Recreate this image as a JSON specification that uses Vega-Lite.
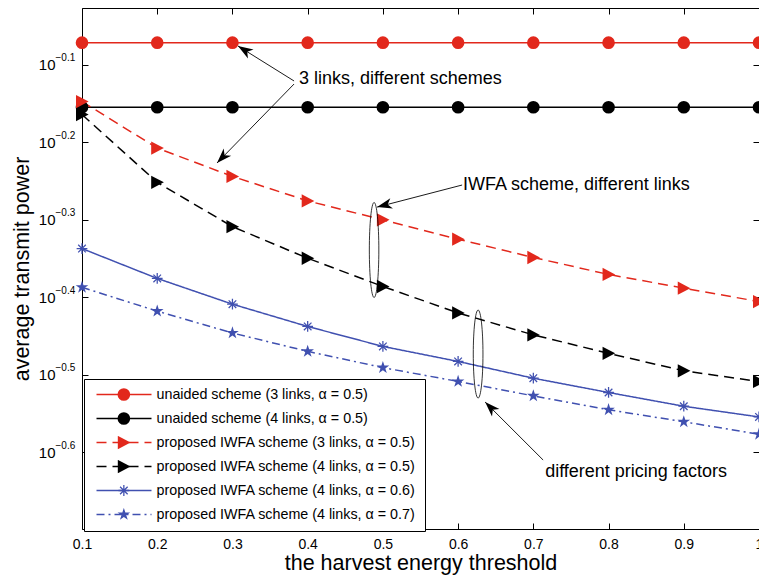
{
  "$schema": "https://vega.github.io/schema/vega-lite/v6.json",
  "width": 677,
  "height": 521,
  "autosize": {"type": "none"},
  "padding": {"left": 82, "top": 8, "right": 0, "bottom": 52},
  "background": "white",
  "config": {
    "font": "Liberation Sans",
    "view": {"stroke": "black", "strokeWidth": 1},
    "axis": {"grid": false, "labelColor": "black", "tickColor": "black", "domainColor": "black", "titleColor": "black", "titleFontWeight": "normal", "labelFont": "Liberation Sans", "titleFont": "Liberation Sans", "labelFlush": false, "tickWidth": 1},
    "legend": {"labelFont": "Liberation Sans", "labelColor": "black"}
  },
  "datasets": {
    "curves": [
      {"series": "unaided scheme (3 links, α = 0.5)", "x": 0.1, "y": 0.848},
      {"series": "unaided scheme (3 links, α = 0.5)", "x": 0.2, "y": 0.848},
      {"series": "unaided scheme (3 links, α = 0.5)", "x": 0.3, "y": 0.848},
      {"series": "unaided scheme (3 links, α = 0.5)", "x": 0.4, "y": 0.848},
      {"series": "unaided scheme (3 links, α = 0.5)", "x": 0.5, "y": 0.848},
      {"series": "unaided scheme (3 links, α = 0.5)", "x": 0.6, "y": 0.848},
      {"series": "unaided scheme (3 links, α = 0.5)", "x": 0.7, "y": 0.848},
      {"series": "unaided scheme (3 links, α = 0.5)", "x": 0.8, "y": 0.848},
      {"series": "unaided scheme (3 links, α = 0.5)", "x": 0.9, "y": 0.848},
      {"series": "unaided scheme (3 links, α = 0.5)", "x": 1.0, "y": 0.848},
      {"series": "unaided scheme (4 links, α = 0.5)", "x": 0.1, "y": 0.700},
      {"series": "unaided scheme (4 links, α = 0.5)", "x": 0.2, "y": 0.700},
      {"series": "unaided scheme (4 links, α = 0.5)", "x": 0.3, "y": 0.700},
      {"series": "unaided scheme (4 links, α = 0.5)", "x": 0.4, "y": 0.700},
      {"series": "unaided scheme (4 links, α = 0.5)", "x": 0.5, "y": 0.700},
      {"series": "unaided scheme (4 links, α = 0.5)", "x": 0.6, "y": 0.700},
      {"series": "unaided scheme (4 links, α = 0.5)", "x": 0.7, "y": 0.700},
      {"series": "unaided scheme (4 links, α = 0.5)", "x": 0.8, "y": 0.700},
      {"series": "unaided scheme (4 links, α = 0.5)", "x": 0.9, "y": 0.700},
      {"series": "unaided scheme (4 links, α = 0.5)", "x": 1.0, "y": 0.700},
      {"series": "proposed IWFA scheme (3 links, α = 0.5)", "x": 0.1, "y": 0.712},
      {"series": "proposed IWFA scheme (3 links, α = 0.5)", "x": 0.2, "y": 0.620},
      {"series": "proposed IWFA scheme (3 links, α = 0.5)", "x": 0.3, "y": 0.570},
      {"series": "proposed IWFA scheme (3 links, α = 0.5)", "x": 0.4, "y": 0.530},
      {"series": "proposed IWFA scheme (3 links, α = 0.5)", "x": 0.5, "y": 0.501},
      {"series": "proposed IWFA scheme (3 links, α = 0.5)", "x": 0.6, "y": 0.473},
      {"series": "proposed IWFA scheme (3 links, α = 0.5)", "x": 0.7, "y": 0.448},
      {"series": "proposed IWFA scheme (3 links, α = 0.5)", "x": 0.8, "y": 0.426},
      {"series": "proposed IWFA scheme (3 links, α = 0.5)", "x": 0.9, "y": 0.409},
      {"series": "proposed IWFA scheme (3 links, α = 0.5)", "x": 1.0, "y": 0.393},
      {"series": "proposed IWFA scheme (4 links, α = 0.5)", "x": 0.1, "y": 0.685},
      {"series": "proposed IWFA scheme (4 links, α = 0.5)", "x": 0.2, "y": 0.560},
      {"series": "proposed IWFA scheme (4 links, α = 0.5)", "x": 0.3, "y": 0.491},
      {"series": "proposed IWFA scheme (4 links, α = 0.5)", "x": 0.4, "y": 0.447},
      {"series": "proposed IWFA scheme (4 links, α = 0.5)", "x": 0.5, "y": 0.411},
      {"series": "proposed IWFA scheme (4 links, α = 0.5)", "x": 0.6, "y": 0.380},
      {"series": "proposed IWFA scheme (4 links, α = 0.5)", "x": 0.7, "y": 0.356},
      {"series": "proposed IWFA scheme (4 links, α = 0.5)", "x": 0.8, "y": 0.337},
      {"series": "proposed IWFA scheme (4 links, α = 0.5)", "x": 0.9, "y": 0.320},
      {"series": "proposed IWFA scheme (4 links, α = 0.5)", "x": 1.0, "y": 0.310},
      {"series": "proposed IWFA scheme (4 links, α = 0.6)", "x": 0.1, "y": 0.460},
      {"series": "proposed IWFA scheme (4 links, α = 0.6)", "x": 0.2, "y": 0.421},
      {"series": "proposed IWFA scheme (4 links, α = 0.6)", "x": 0.3, "y": 0.390},
      {"series": "proposed IWFA scheme (4 links, α = 0.6)", "x": 0.4, "y": 0.365},
      {"series": "proposed IWFA scheme (4 links, α = 0.6)", "x": 0.5, "y": 0.344},
      {"series": "proposed IWFA scheme (4 links, α = 0.6)", "x": 0.6, "y": 0.329},
      {"series": "proposed IWFA scheme (4 links, α = 0.6)", "x": 0.7, "y": 0.313},
      {"series": "proposed IWFA scheme (4 links, α = 0.6)", "x": 0.8, "y": 0.300},
      {"series": "proposed IWFA scheme (4 links, α = 0.6)", "x": 0.9, "y": 0.288},
      {"series": "proposed IWFA scheme (4 links, α = 0.6)", "x": 1.0, "y": 0.279},
      {"series": "proposed IWFA scheme (4 links, α = 0.7)", "x": 0.1, "y": 0.410},
      {"series": "proposed IWFA scheme (4 links, α = 0.7)", "x": 0.2, "y": 0.382},
      {"series": "proposed IWFA scheme (4 links, α = 0.7)", "x": 0.3, "y": 0.358},
      {"series": "proposed IWFA scheme (4 links, α = 0.7)", "x": 0.4, "y": 0.339},
      {"series": "proposed IWFA scheme (4 links, α = 0.7)", "x": 0.5, "y": 0.323},
      {"series": "proposed IWFA scheme (4 links, α = 0.7)", "x": 0.6, "y": 0.310},
      {"series": "proposed IWFA scheme (4 links, α = 0.7)", "x": 0.7, "y": 0.297},
      {"series": "proposed IWFA scheme (4 links, α = 0.7)", "x": 0.8, "y": 0.285},
      {"series": "proposed IWFA scheme (4 links, α = 0.7)", "x": 0.9, "y": 0.275},
      {"series": "proposed IWFA scheme (4 links, α = 0.7)", "x": 1.0, "y": 0.265}
    ],
    "notes": [
      {"label": "3 links, different schemes", "x": 0.3886, "y": 0.761},
      {"label": "IWFA scheme, different links", "x": 0.6066, "y": 0.5556},
      {"label": "different pricing factors", "x": 0.7157, "y": 0.2368}
    ],
    "arrows": [
      {"id": "a1", "x": 0.3819, "y": 0.7568, "x2": 0.3074, "y2": 0.8396},
      {"id": "a2", "x": 0.3819, "y": 0.7500, "x2": 0.2795, "y2": 0.5932},
      {"id": "a3", "x": 0.6053, "y": 0.5556, "x2": 0.4923, "y2": 0.5203},
      {"id": "a4", "x": 0.7130, "y": 0.2455, "x2": 0.6359, "y2": 0.2916}
    ]
  },
  "layer": [
    {
      "data": {"name": "curves"},
      "mark": {"type": "line", "strokeWidth": 1.5},
      "encoding": {
        "x": {"field": "x", "type": "quantitative", "scale": {"domain": [0.1, 1.0], "nice": false, "zero": false},
          "axis": {"orient": "bottom", "values": [0.1, 0.2, 0.3, 0.4, 0.5, 0.6, 0.7, 0.8, 0.9, 1.0], "format": ".1~f", "labelFontSize": 14, "labelPadding": 14, "tickSize": -6, "domain": false, "title": "the harvest energy threshold", "titleFontSize": 21.5, "titlePadding": 1, "labelFlush": false, "grid": false}},
        "y": {"field": "y", "type": "quantitative", "scale": {"type": "log", "domain": [0.2, 0.94], "nice": false},
          "axis": {"orient": "left", "values": [0.794328, 0.630957, 0.501187, 0.398107, 0.316228, 0.251189], "labelExpr": "'10'", "labelFontSize": 15, "labelPadding": 33, "tickSize": -6, "domain": false, "title": "average transmit power", "titleFontSize": 21.5, "titlePadding": 5, "grid": false}},
        "color": {"field": "series", "type": "nominal",
          "scale": {"domain": ["unaided scheme (3 links, α = 0.5)", "unaided scheme (4 links, α = 0.5)", "proposed IWFA scheme (3 links, α = 0.5)", "proposed IWFA scheme (4 links, α = 0.5)", "proposed IWFA scheme (4 links, α = 0.6)", "proposed IWFA scheme (4 links, α = 0.7)"],
                    "range": ["#e2281c", "#000000", "#e2281c", "#000000", "#4050b0", "#4050b0"]},
          "legend": {"title": null, "orient": "none", "legendX": 2, "legendY": 371, "padding": 9, "symbolType": "stroke", "symbolSize": 3025, "symbolStrokeWidth": 1.5, "symbolOffset": 2.5, "labelOffset": 4, "labelFontSize": 14.3, "labelLimit": 400, "clipHeight": 13, "rowPadding": 9, "strokeColor": "black", "fillColor": "white", "cornerRadius": 0}},
        "strokeDash": {"field": "series", "type": "nominal",
          "scale": {"domain": ["unaided scheme (3 links, α = 0.5)", "unaided scheme (4 links, α = 0.5)", "proposed IWFA scheme (3 links, α = 0.5)", "proposed IWFA scheme (4 links, α = 0.5)", "proposed IWFA scheme (4 links, α = 0.6)", "proposed IWFA scheme (4 links, α = 0.7)"],
                    "range": [[1, 0], [1, 0], [10, 6], [10, 6], [1, 0], [8, 4, 2, 4]]}}
      }
    },
    {
      "data": {"name": "curves"},
      "mark": {"type": "point", "filled": true, "opacity": 1, "size": 160, "strokeWidth": 0},
      "encoding": {
        "x": {"field": "x", "type": "quantitative", "scale": {"domain": [0.1, 1.0], "nice": false, "zero": false}, "axis": null},
        "y": {"field": "y", "type": "quantitative", "scale": {"type": "log", "domain": [0.2, 0.94], "nice": false}, "axis": null},
        "color": {"field": "series", "type": "nominal",
          "scale": {"domain": ["unaided scheme (3 links, α = 0.5)", "unaided scheme (4 links, α = 0.5)", "proposed IWFA scheme (3 links, α = 0.5)", "proposed IWFA scheme (4 links, α = 0.5)", "proposed IWFA scheme (4 links, α = 0.6)", "proposed IWFA scheme (4 links, α = 0.7)"],
                    "range": ["#e2281c", "#000000", "#e2281c", "#000000", "#4050b0", "#4050b0"]},
          "legend": {"title": null, "orient": "none", "legendX": 2, "legendY": 371, "padding": 9, "symbolSize": 160, "symbolStrokeWidth": 0, "symbolOffset": 23.7, "labelExpr": "''", "labelFontSize": 14.3, "clipHeight": 13, "rowPadding": 9, "strokeColor": null, "fillColor": null}},
        "shape": {"field": "series", "type": "nominal",
          "scale": {"domain": ["unaided scheme (3 links, α = 0.5)", "unaided scheme (4 links, α = 0.5)", "proposed IWFA scheme (3 links, α = 0.5)", "proposed IWFA scheme (4 links, α = 0.5)", "proposed IWFA scheme (4 links, α = 0.6)", "proposed IWFA scheme (4 links, α = 0.7)"],
                    "range": ["circle", "circle", "M1.05,0L-0.95,-1.05L-0.95,1.05Z", "M1.05,0L-0.95,-1.05L-0.95,1.05Z", "M-0.85,-0.1L0.85,-0.1L0.85,0.1L-0.85,0.1Z M0.1,-0.85L0.1,0.85L-0.1,0.85L-0.1,-0.85Z M-0.53,-0.67L0.67,0.53L0.53,0.67L-0.67,-0.53Z M-0.67,0.53L0.53,-0.67L0.67,-0.53L-0.53,0.67Z", "M0,-1.05L0.236,-0.325L0.999,-0.325L0.382,0.124L0.617,0.849L0,0.401L-0.617,0.849L-0.382,0.124L-0.999,-0.325L-0.236,-0.325Z"]}}
      }
    },
    {
      "data": {"name": "notes"},
      "mark": {"type": "text", "align": "left", "baseline": "middle", "fontSize": 18, "font": "Liberation Sans", "color": "black"},
      "encoding": {
        "x": {"field": "x", "type": "quantitative", "scale": {"domain": [0.1, 1.0], "nice": false, "zero": false},
          "axis": {"orient": "top", "values": [0.1, 0.2, 0.3, 0.4, 0.5, 0.6, 0.7, 0.8, 0.9, 1.0], "labels": false, "tickSize": -6, "domain": false, "title": null, "grid": false}},
        "y": {"field": "y", "type": "quantitative", "scale": {"type": "log", "domain": [0.2, 0.94], "nice": false},
          "axis": {"orient": "right", "values": [0.794328, 0.630957, 0.501187, 0.398107, 0.316228, 0.251189], "labels": false, "tickSize": -6, "domain": false, "title": null, "grid": false}},
        "text": {"field": "label", "type": "nominal"}
      }
    },
    {
      "data": {"name": "arrows"},
      "mark": {"type": "rule", "strokeWidth": 0.9, "color": "black"},
      "encoding": {
        "x": {"field": "x", "type": "quantitative", "scale": {"domain": [0.1, 1.0], "nice": false, "zero": false}, "axis": null},
        "y": {"field": "y", "type": "quantitative", "scale": {"type": "log", "domain": [0.2, 0.94], "nice": false}, "axis": null},
        "x2": {"field": "x2"},
        "y2": {"field": "y2"}
      }
    },
    {
      "data": {"name": "arrows"},
      "transform": [{"filter": "datum.id == 'a1'"}],
      "mark": {"type": "point", "shape": "M0,0L0.7,2L0,1.45L-0.7,2Z", "filled": true, "color": "black", "opacity": 1, "size": 225, "angle": 302, "strokeWidth": 0},
      "encoding": {
        "x": {"field": "x2", "type": "quantitative", "scale": {"domain": [0.1, 1.0], "nice": false, "zero": false}, "axis": null},
        "y": {"field": "y2", "type": "quantitative", "scale": {"type": "log", "domain": [0.2, 0.94], "nice": false}, "axis": null}
      }
    },
    {
      "data": {"name": "arrows"},
      "transform": [{"filter": "datum.id == 'a2'"}],
      "mark": {"type": "point", "shape": "M0,0L0.7,2L0,1.45L-0.7,2Z", "filled": true, "color": "black", "opacity": 1, "size": 225, "angle": 224, "strokeWidth": 0},
      "encoding": {
        "x": {"field": "x2", "type": "quantitative", "scale": {"domain": [0.1, 1.0], "nice": false, "zero": false}, "axis": null},
        "y": {"field": "y2", "type": "quantitative", "scale": {"type": "log", "domain": [0.2, 0.94], "nice": false}, "axis": null}
      }
    },
    {
      "data": {"name": "arrows"},
      "transform": [{"filter": "datum.id == 'a3'"}],
      "mark": {"type": "point", "shape": "M0,0L0.7,2L0,1.45L-0.7,2Z", "filled": true, "color": "black", "opacity": 1, "size": 225, "angle": 255.5, "strokeWidth": 0},
      "encoding": {
        "x": {"field": "x2", "type": "quantitative", "scale": {"domain": [0.1, 1.0], "nice": false, "zero": false}, "axis": null},
        "y": {"field": "y2", "type": "quantitative", "scale": {"type": "log", "domain": [0.2, 0.94], "nice": false}, "axis": null}
      }
    },
    {
      "data": {"name": "arrows"},
      "transform": [{"filter": "datum.id == 'a4'"}],
      "mark": {"type": "point", "shape": "M0,0L0.7,2L0,1.45L-0.7,2Z", "filled": true, "color": "black", "opacity": 1, "size": 225, "angle": 315, "strokeWidth": 0},
      "encoding": {
        "x": {"field": "x2", "type": "quantitative", "scale": {"domain": [0.1, 1.0], "nice": false, "zero": false}, "axis": null},
        "y": {"field": "y2", "type": "quantitative", "scale": {"type": "log", "domain": [0.2, 0.94], "nice": false}, "axis": null}
      }
    },
    {
      "data": {"values": [{"x": 0.4883, "y": 0.4581}]},
      "mark": {"type": "point", "shape": "M0,-1A0.1,1 0 1,1 0,1A0.1,1 0 1,1 0,-1Z", "filled": false, "color": "black", "opacity": 1, "size": 9025, "strokeWidth": 0.8},
      "encoding": {
        "x": {"field": "x", "type": "quantitative", "scale": {"domain": [0.1, 1.0], "nice": false, "zero": false}, "axis": null},
        "y": {"field": "y", "type": "quantitative", "scale": {"type": "log", "domain": [0.2, 0.94], "nice": false},
          "axis": {"orient": "left", "values": [0.794328, 0.630957, 0.501187, 0.398107, 0.316228, 0.251189], "labelExpr": "'−' + format(-log(datum.value)/LN10, '.1f')", "labelFontSize": 10, "labelAlign": "left", "labelBaseline": "middle", "labelPadding": 27, "labelOffset": -7, "ticks": false, "domain": false, "title": null, "grid": false}}
      }
    },
    {
      "data": {"values": [{"x": 0.6266, "y": 0.3363}]},
      "mark": {"type": "point", "shape": "M0,-1A0.11,1 0 1,1 0,1A0.11,1 0 1,1 0,-1Z", "filled": false, "color": "black", "opacity": 1, "size": 7744, "strokeWidth": 0.8},
      "encoding": {
        "x": {"field": "x", "type": "quantitative", "scale": {"domain": [0.1, 1.0], "nice": false, "zero": false}, "axis": null},
        "y": {"field": "y", "type": "quantitative", "scale": {"type": "log", "domain": [0.2, 0.94], "nice": false}, "axis": null}
      }
    }
  ],
  "resolve": {
    "scale": {"color": "independent", "shape": "independent", "strokeDash": "independent"},
    "axis": {"x": "independent", "y": "independent"},
    "legend": {"color": "independent", "shape": "independent", "strokeDash": "independent"}
  }
}
